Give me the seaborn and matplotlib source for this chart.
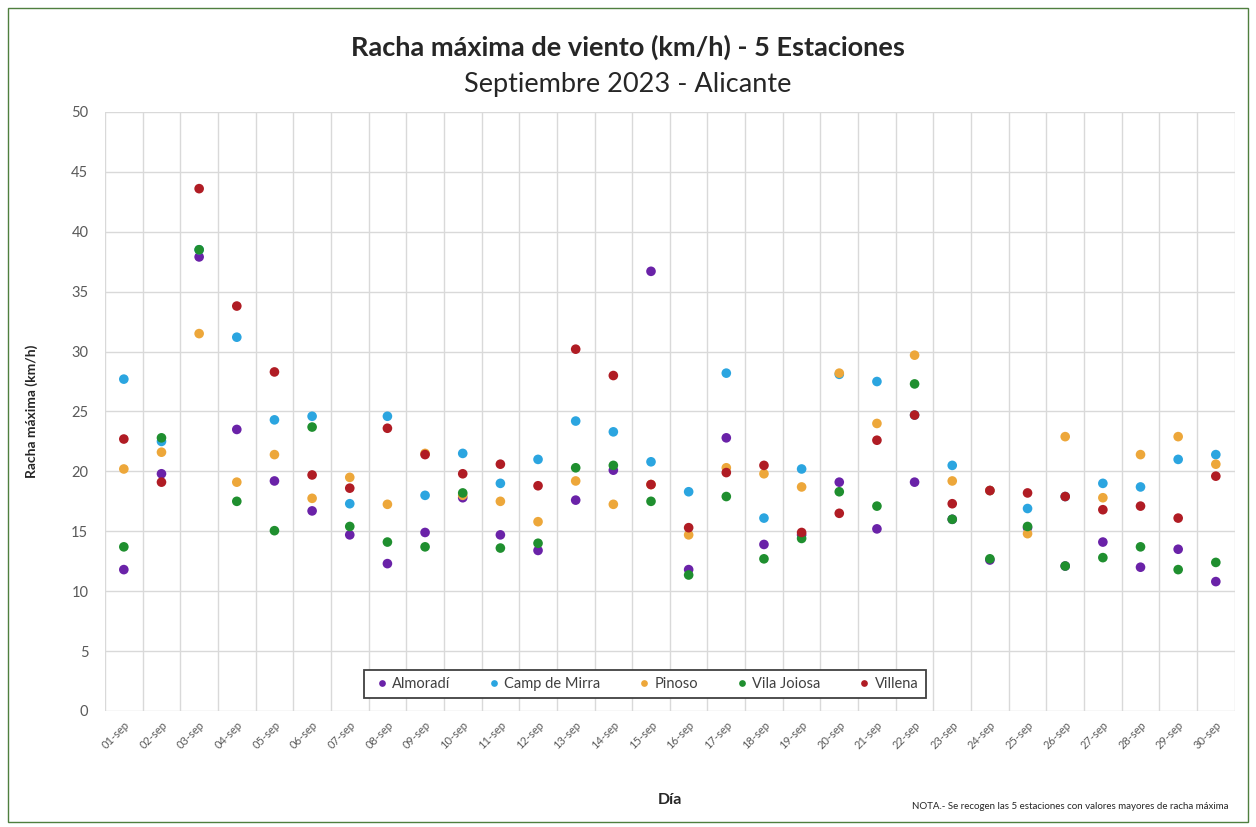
import numpy as np
import pandas as pd
import seaborn as sns
import matplotlib.pyplot as plt
from matplotlib.patches import Rectangle
from matplotlib.ticker import MultipleLocator, FixedLocator

# Datos: racha máxima diaria (km/h), septiembre 2023
dias = [f"{d:02d}-sep" for d in range(1, 31)]

almoradi = [11.8, 19.8, 37.9, 23.5, 19.2, 16.7, 14.7, 12.3, 14.9, 17.8,
            14.7, 13.4, 17.6, 20.1, 36.7, 11.8, 22.8, 13.9, 14.7, 19.1,
            15.2, 19.1, 16.0, 12.6, 15.3, 12.1, 14.1, 12.0, 13.5, 10.8]
camp_de_mirra = [27.7, 22.5, 38.5, 31.2, 24.3, 24.6, 17.3, 24.6, 18.0, 21.5,
                 19.0, 21.0, 24.2, 23.3, 20.8, 18.3, 28.2, 16.1, 20.2, 28.1,
                 27.5, 24.7, 20.5, 18.4, 16.9, 17.9, 19.0, 18.7, 21.0, 21.4]
pinoso = [20.2, 21.6, 31.5, 19.1, 21.4, 17.75, 19.5, 17.25, 21.5, 18.0,
          17.5, 15.8, 19.2, 17.25, 18.9, 14.7, 20.3, 19.8, 18.7, 28.2,
          24.0, 29.7, 19.2, 18.4, 14.8, 22.9, 17.8, 21.4, 22.9, 20.6]
vila_joiosa = [13.7, 22.8, 38.5, 17.5, 15.05, 23.7, 15.4, 14.1, 13.7, 18.2,
               13.6, 14.0, 20.3, 20.5, 17.5, 11.35, 17.9, 12.7, 14.4, 18.3,
               17.1, 27.3, 16.0, 12.7, 15.4, 12.1, 12.8, 13.7, 11.8, 12.4]
villena = [22.7, 19.1, 43.6, 33.8, 28.3, 19.7, 18.6, 23.6, 21.4, 19.8,
           20.6, 18.8, 30.2, 28.0, 18.9, 15.3, 19.9, 20.5, 14.9, 16.5,
           22.6, 24.7, 17.3, 18.4, 18.2, 17.9, 16.8, 17.1, 16.1, 19.6]

estaciones = ["Almoradí", "Camp de Mirra", "Pinoso", "Vila Joiosa", "Villena"]
colores = ["#6A22A8", "#2BA5E0", "#EDA73A", "#1F8F2F", "#B01C24"]

df = pd.DataFrame({
    "Día": dias * 5,
    "Racha": almoradi + camp_de_mirra + pinoso + vila_joiosa + villena,
    "Estación": np.repeat(estaciones, len(dias)),
})

sns.set_theme(style="white")
plt.rcParams["font.family"] = ["Lato", "DejaVu Sans"]

fig = plt.figure(figsize=(12.56, 8.27), dpi=100)
ax = fig.add_axes([0.0836, 0.1403, 0.8994, 0.7243])

sns.scatterplot(data=df, x="Día", y="Racha", hue="Estación",
                hue_order=estaciones, palette=dict(zip(estaciones, colores)),
                s=48, edgecolor="none", ax=ax, zorder=3)

ax.set_xlim(-0.5, len(dias) - 0.5)
ax.set_ylim(0, 50)
ax.yaxis.set_major_locator(MultipleLocator(5))
ax.xaxis.set_minor_locator(FixedLocator(np.arange(-0.5, len(dias), 1)))
ax.grid(axis="y", which="major", color="#d9d9d9", lw=1)
ax.grid(axis="x", which="minor", color="#d9d9d9", lw=1)
ax.grid(axis="x", which="major", visible=False)
for s in ax.spines.values():
    s.set_visible(False)

ax.tick_params(axis="y", labelsize=10.5, labelcolor="#595959", length=0, pad=12)
ax.tick_params(axis="x", which="both", length=0, labelsize=8, labelcolor="#595959", pad=6)
plt.setp(ax.get_xticklabels(), rotation=45, ha="right", rotation_mode="anchor")

ax.set_xlabel("Día", fontsize=11.5, fontweight="bold", color="#262626", labelpad=30)
ax.set_ylabel("Racha máxima (km/h)", fontsize=10, fontweight="bold", color="#262626", labelpad=24)

fig.text(0.5, 0.943, "Racha máxima de viento (km/h) - 5 Estaciones",
         ha="center", va="center", fontsize=19.5, fontweight="bold", color="#262626")
fig.text(0.5, 0.898, "Septiembre 2023 - Alicante",
         ha="center", va="center", fontsize=19.5, color="#262626")
fig.text(0.978, 0.025, "NOTA.- Se recogen las 5 estaciones con valores mayores de racha máxima",
         ha="right", va="center", fontsize=7, color="#262626")

leg = ax.legend(loc="center", bbox_to_anchor=(0.478, 0.045), ncol=5,
                frameon=True, fancybox=False, framealpha=1, edgecolor="#404040",
                fontsize=10.5, markerscale=0.7, handletextpad=0.0, handlelength=1.4,
                columnspacing=2.3, borderpad=0.5)
leg.get_frame().set_linewidth(1.3)
for t in leg.get_texts():
    t.set_color("#404040")

fig.patches.append(Rectangle((0.006, 0.006), 0.988, 0.984, transform=fig.transFigure,
                             fill=False, edgecolor="#4F7F3F", lw=1))

fig.savefig("out.png", dpi=100)
